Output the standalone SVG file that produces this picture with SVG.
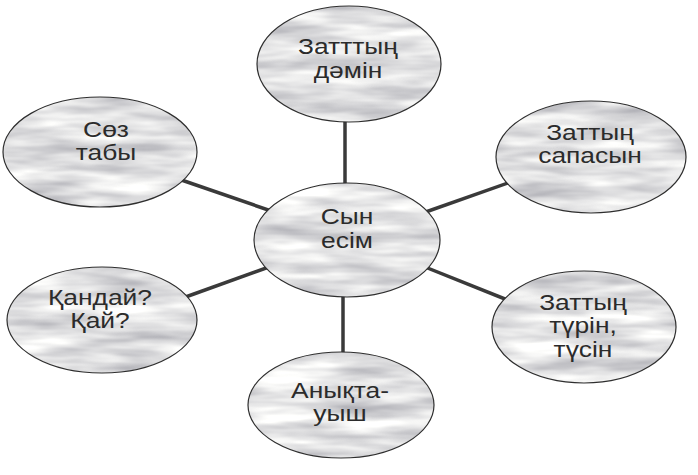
<svg xmlns="http://www.w3.org/2000/svg" width="698" height="475" viewBox="0 0 698 475">
<style>
.bg{fill:#ddd;stroke:none;filter:url(#tex)}
.ol{fill:none;stroke:#2e2e2e;stroke-width:1.2}
.lbl{font-family:"Liberation Sans",Arial,sans-serif;font-size:22px;fill:#2b2b2b;text-anchor:middle}
.con line{stroke:#3a3a3a;stroke-width:3.5;stroke-linecap:butt}
</style>
<defs>
<filter id="tex" x="0" y="0" width="100%" height="100%" color-interpolation-filters="sRGB">
<feTurbulence type="fractalNoise" baseFrequency="0.012 0.07" numOctaves="3" seed="7" result="n"/>
<feColorMatrix in="n" type="matrix" values="0.5 0 0 0 0.63  0.5 0 0 0 0.63  0.45 0 0 0 0.66  0 0 0 0 1" result="g"/>
<feComposite in="g" in2="SourceGraphic" operator="in"/>
</filter>
</defs>
<rect width="698" height="475" fill="#fff"/>
<g id="connectors" class="con">
<line x1="345" y1="100" x2="345" y2="200"/>
<line x1="343" y1="280" x2="343" y2="380"/>
<line x1="180" y1="179.5" x2="280" y2="214"/>
<line x1="180" y1="299" x2="280" y2="263"/>
<line x1="420" y1="214" x2="515" y2="180.5"/>
<line x1="420" y1="265" x2="515" y2="303"/>
</g>
<g id="n-top">
<ellipse class="bg" cx="349" cy="64" rx="92" ry="58"/>
<ellipse class="ol" cx="349" cy="64" rx="92" ry="58"/>
<g transform="translate(348 0) scale(1.2 1)"><text class="lbl" x="0" y="54">Затттың</text><text class="lbl" x="0" y="78">дәмін</text></g>
</g>
<g id="n-center">
<ellipse class="bg" cx="347" cy="240" rx="93" ry="57"/>
<ellipse class="ol" cx="347" cy="240" rx="93" ry="57"/>
<g transform="translate(347 0) scale(1.2 1)"><text class="lbl" x="0" y="224">Сын</text><text class="lbl" x="0" y="248">есім</text></g>
</g>
<g id="n-topright">
<ellipse class="bg" cx="591" cy="157" rx="95" ry="56"/>
<ellipse class="ol" cx="591" cy="157" rx="95" ry="56"/>
<g transform="translate(590 0) scale(1.2 1)"><text class="lbl" x="0" y="140">Заттың</text><text class="lbl" x="0" y="163">сапасын</text></g>
</g>
<g id="n-lefttop">
<ellipse class="bg" cx="100" cy="152" rx="97" ry="55"/>
<ellipse class="ol" cx="100" cy="152" rx="97" ry="55"/>
<g transform="translate(106 0) scale(1.2 1)"><text class="lbl" x="0" y="137">Сөз</text><text class="lbl" x="0" y="160">табы</text></g>
</g>
<g id="n-leftbottom">
<ellipse class="bg" cx="102" cy="320" rx="95" ry="53"/>
<ellipse class="ol" cx="102" cy="320" rx="95" ry="53"/>
<g transform="translate(100 0) scale(1.2 1)"><text class="lbl" x="0" y="305">Қандай?</text><text class="lbl" x="0" y="328">Қай?</text></g>
</g>
<g id="n-bottom">
<ellipse class="bg" cx="341" cy="405" rx="93" ry="53"/>
<ellipse class="ol" cx="341" cy="405" rx="93" ry="53"/>
<g transform="translate(340 0) scale(1.2 1)"><text class="lbl" x="0" y="398">Анықта-</text><text class="lbl" x="0" y="421">уыш</text></g>
</g>
<g id="n-bottomright">
<ellipse class="bg" cx="584" cy="327" rx="92" ry="56"/>
<ellipse class="ol" cx="584" cy="327" rx="92" ry="56"/>
<g transform="translate(583 0) scale(1.2 1)"><text class="lbl" x="0" y="310">Заттың</text><text class="lbl" x="0" y="333">түрін,</text><text class="lbl" x="0" y="357">түсін</text></g>
</g>
</svg>
